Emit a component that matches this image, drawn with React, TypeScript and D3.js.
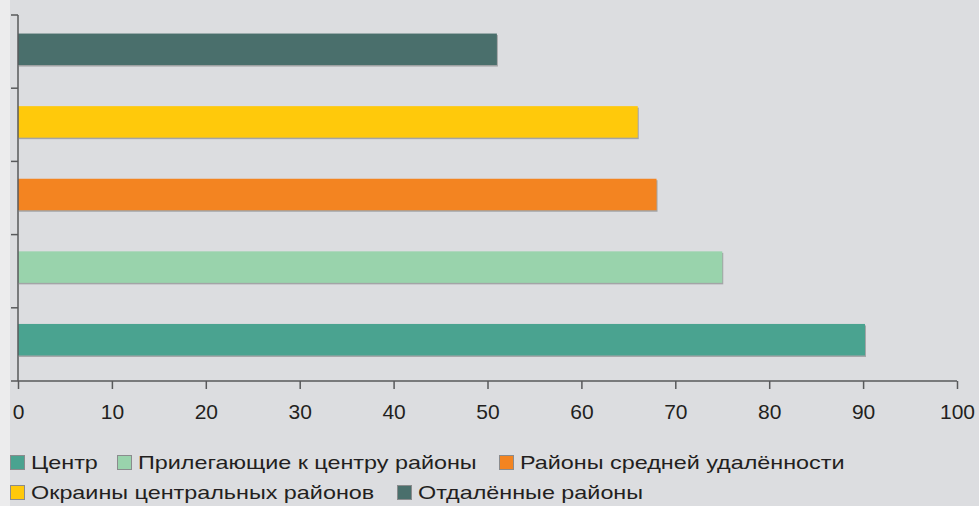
import React, { useEffect, useRef } from 'react';
import { axisBottom, scaleBand, scaleLinear, select } from 'd3';

const categories = [
  'Отдалённые районы',
  'Окраины центральных районов',
  'Районы средней удалённости',
  'Прилегающие к центру районы',
  'Центр',
];
const values = [51, 66, 68, 75, 90.2];
const colors = ['#4a6f6c', '#ffc90b', '#f38421', '#99d3ac', '#4aa390'];
const xTicks = [0, 10, 20, 30, 40, 50, 60, 70, 80, 90, 100];

// legend rows (order as in the picture)
const legendRows = [
  ['Центр', 'Прилегающие к центру районы', 'Районы средней удалённости'],
  ['Окраины центральных районов', 'Отдалённые районы'],
];
const legendX = [
  [10, 117, 499],
  [10, 397],
];

const W = 979;
const H = 506;
const FONT = '"Liberation Sans", Arial, sans-serif';

const App: React.FC = () => {
  const svgRef = useRef<SVGSVGElement>(null);

  useEffect(() => {
    const svg = select(svgRef.current);
    svg.selectAll('*').remove();

    svg.append('rect').attr('width', W).attr('height', H).attr('fill', '#ececed');
    svg.append('rect').attr('x', 10).attr('width', W - 10).attr('height', H).attr('fill', '#dcdde0');

    // Define Scales
    const xScale = scaleLinear().domain([0, 100]).range([18, 957]);
    const tickScale = scaleBand<string>().domain(categories).range([15, 381]);
    const barScale = scaleBand<string>().domain(categories).range([13, 376]);
    const barH = 31.5;

    // Draw Marks (shadow + bar)
    const bars = svg.append('g');
    categories.forEach((c, i) => {
      const y = (barScale(c) as number) + barScale.bandwidth() / 2 - barH / 2;
      bars
        .append('rect')
        .attr('x', xScale(0) + 1)
        .attr('y', y + 1.5)
        .attr('width', xScale(values[i]) - xScale(0))
        .attr('height', barH)
        .attr('fill', '#a3a4a6');
      bars
        .append('rect')
        .attr('x', xScale(0))
        .attr('y', y)
        .attr('width', xScale(values[i]) - xScale(0))
        .attr('height', barH)
        .attr('fill', colors[i]);
    });

    // y axis with category ticks
    const yAxis = svg.append('g');
    yAxis
      .append('line')
      .attr('x1', 18)
      .attr('x2', 18)
      .attr('y1', 15)
      .attr('y2', 381)
      .attr('stroke', '#58595b')
      .attr('stroke-width', 1.5);
    categories.forEach((c) => {
      const b = tickScale(c) as number;
      yAxis
        .append('line')
        .attr('x1', 11)
        .attr('x2', 18)
        .attr('y1', b)
        .attr('y2', b)
        .attr('stroke', '#58595b')
        .attr('stroke-width', 1.5);
    });

    // x axis
    const xAxis = axisBottom(xScale).tickValues(xTicks).tickSize(8).tickPadding(15).tickSizeOuter(0);
    const gx = svg.append('g').attr('transform', 'translate(0,381)').call(xAxis);
    gx.select('.domain').remove();
    gx.append('line')
      .attr('x1', 11)
      .attr('x2', 957)
      .attr('stroke', '#58595b')
      .attr('stroke-width', 1.5);
    gx.selectAll('.tick line').attr('stroke', '#58595b').attr('stroke-width', 1.5);
    gx.selectAll('.tick text')
      .attr('fill', '#231f20')
      .style('font-family', FONT)
      .style('font-size', '21px');

    // legend
    const nameToColor = (n: string) => colors[categories.indexOf(n)];
    legendRows.forEach((row, r) => {
      const y = 462 + r * 30;
      row.forEach((name, k) => {
        const x = legendX[r][k];
        svg
          .append('rect')
          .attr('x', x + 0.5)
          .attr('y', y - 6.5)
          .attr('width', 14)
          .attr('height', 14)
          .attr('fill', nameToColor(name))
          .attr('stroke', '#8a8b8d')
          .attr('stroke-width', 1);
        svg
          .append('text')
          .attr('transform', `translate(${x + 21},${y + 7}) scale(1.23,1)`)
          .attr('fill', '#231f20')
          .style('font-family', FONT)
          .style('font-size', '19px')
          .text(name);
      });
    });
  }, []);

  return (
    <svg
      ref={svgRef}
      width={W}
      height={H}
      style={{ position: 'absolute', left: 0, top: 0, display: 'block' }}
    />
  );
};

export default App;
